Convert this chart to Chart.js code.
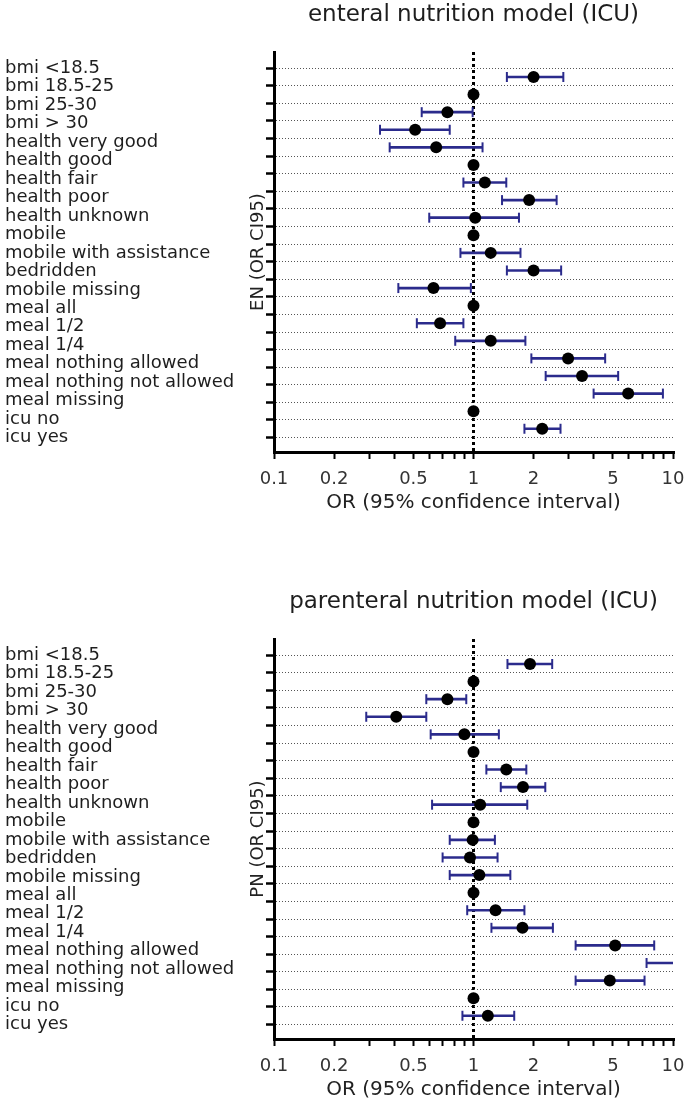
<!DOCTYPE html>
<html><head><meta charset="utf-8">
<script src="https://cdn.jsdelivr.net/npm/chart.js@4"></script>
<style>
html,body{margin:0;padding:0;background:#fff;width:685px;height:1102px;overflow:hidden}
.wrap{position:absolute;left:0;width:685px;height:515px}
</style></head><body>
<div class="wrap" style="top:0"><canvas id="en"></canvas></div>
<div class="wrap" style="top:587px"><canvas id="pn"></canvas></div>
<script>
// ---- data ----
const categories = ["bmi <18.5","bmi 18.5-25","bmi 25-30","bmi > 30","health very good","health good","health fair","health poor","health unknown","mobile","mobile with assistance","bedridden","mobile missing","meal all","meal 1/2","meal 1/4","meal nothing allowed","meal nothing not allowed","meal missing","icu no","icu yes"];
const xTickValues = [0.1,0.2,0.3,0.4,0.5,0.6,0.7,0.8,0.9,1,2,3,4,5,6,7,8,9,10];
const xTickLabels = [0.1,0.2,0.5,1,2,5,10];

// enteral nutrition model (ICU)
const enOR    = [2.00,1,0.74,0.51,0.65,1,1.14,1.90,1.02,1,1.22,2.00,0.63,1,0.68,1.22,2.98,3.50,5.96,1,2.21];
const enLower = [1.47,null,0.55,0.34,0.38,null,0.89,1.39,0.60,null,0.86,1.47,0.42,null,0.52,0.81,1.95,2.30,4.00,null,1.80];
const enUpper = [2.82,null,0.99,0.76,1.11,null,1.46,2.61,1.69,null,1.72,2.75,0.97,null,0.89,1.82,4.57,5.31,8.90,null,2.73];

// parenteral nutrition model (ICU)
const pnOR    = [1.92,1,0.74,0.41,0.90,1,1.46,1.77,1.08,1,0.99,0.96,1.07,1,1.29,1.76,5.13,14.0,4.82,1,1.18];
const pnLower = [1.48,null,0.58,0.29,0.61,null,1.16,1.37,0.62,null,0.76,0.70,0.76,null,0.93,1.23,3.25,7.37,3.25,null,0.88];
const pnUpper = [2.48,null,0.92,0.58,1.34,null,1.84,2.29,1.86,null,1.28,1.32,1.53,null,1.80,2.50,8.05,28.0,7.20,null,1.60];

// ---- drawing ----
Chart.defaults.font.family = "'DejaVu Sans', sans-serif";
Chart.defaults.color = '#1e1e1e';
const NAVY = '#2b2b8c';
const rowTicks = s => { s.ticks = categories.map((c, i) => ({ value: i })); };

function makeChart(id, title, yTitle, or, lo, hi) {
  const bars = [], caps = [], dots = [];
  categories.forEach((c, i) => {
    dots.push({ x: or[i], y: i });
    if (lo[i] != null) {
      bars.push({ y: i, x: [lo[i], hi[i]] });
      caps.push({ x: lo[i], y: i });
      caps.push({ x: hi[i], y: i });
    }
  });
  new Chart(document.getElementById(id), {
    type: 'scatter',
    data: {
      datasets: [
        { type: 'scatter', data: dots, order: 0, pointRadius: 6, pointBackgroundColor: '#000', pointBorderWidth: 0, xAxisID: 'x', yAxisID: 'y' },
        { type: 'scatter', data: caps, order: 1, pointStyle: 'line', rotation: 90, pointRadius: 5, pointBorderColor: NAVY, pointBorderWidth: 2, xAxisID: 'x', yAxisID: 'y' },
        { type: 'bar', indexAxis: 'y', data: bars, order: 2, backgroundColor: NAVY, borderWidth: 0, barThickness: 2, xAxisID: 'x', yAxisID: 'y' }
      ]
    },
    options: {
      responsive: true, maintainAspectRatio: false, animation: false, events: [],
      layout: { padding: { left: 5, right: 0, top: 0, bottom: 0 } },
      plugins: { legend: { display: false }, tooltip: { enabled: false }, title: { display: false } },
      scales: {
        xt: {
          type: 'logarithmic', position: 'top', min: 0.1, max: 10,
          afterFit: s => { s.height = 52; s.paddingLeft = 0; s.paddingRight = 0; },
          ticks: { display: false }, grid: { display: false }, border: { display: false },
          title: { display: true, text: title, color: '#1e1e1e', font: { size: 23 }, padding: { top: 1, bottom: 0 } }
        },
        x: {
          type: 'logarithmic', position: 'bottom', min: 0.1, max: 10,
          afterBuildTicks: s => { s.ticks = xTickValues.map(v => ({ value: v })); },
          afterFit: s => { s.height = 63; s.paddingLeft = 0; s.paddingRight = 12; },
          ticks: { autoSkip: false, maxRotation: 0, minRotation: 0, padding: 10, font: { size: 18 }, color: '#333',
                   callback: v => xTickLabels.includes(v) ? String(v) : '' },
          grid: { drawOnChartArea: true, drawTicks: true, tickLength: 7, tickColor: '#000', tickWidth: 2, tickBorderDash: [],
                  color: ctx => (ctx.tick && ctx.tick.value === 1) ? '#000' : 'rgba(0,0,0,0)', lineWidth: 3 },
          border: { display: true, color: '#000', width: 3, dash: [3, 3] },
          title: { display: true, text: 'OR (95% confidence interval)', font: { size: 20 }, color: '#222', padding: { top: 0, bottom: 0 } }
        },
        y: {
          type: 'linear', position: 'left', weight: 0, min: -0.88, max: 20.78, reverse: true,
          afterBuildTicks: rowTicks,
          afterFit: s => { s.width = 26; },
          ticks: { display: false },
          grid: { color: '#555', lineWidth: 1, drawTicks: true, tickLength: 8, tickColor: '#000', tickWidth: 2.5, tickBorderDash: [] },
          border: { display: true, color: '#000', width: 3, dash: [1, 2] },
          title: { display: true, text: yTitle, font: { size: 18 }, color: '#222', padding: { top: 0, bottom: 0 } }
        },
        yl: {
          type: 'linear', position: 'left', weight: 1, min: -0.88, max: 20.78, reverse: true,
          afterBuildTicks: rowTicks,
          afterFit: s => { s.width = 243; },
          ticks: { autoSkip: false, crossAlign: 'far', font: { size: 18 }, color: '#1e1e1e', callback: v => categories[v] },
          grid: { display: false }, border: { display: false }
        }
      }
    }
  });
}
makeChart('en', 'enteral nutrition model (ICU)', 'EN (OR CI95)', enOR, enLower, enUpper);
makeChart('pn', 'parenteral nutrition model (ICU)', 'PN (OR CI95)', pnOR, pnLower, pnUpper);
</script>
</body></html>
